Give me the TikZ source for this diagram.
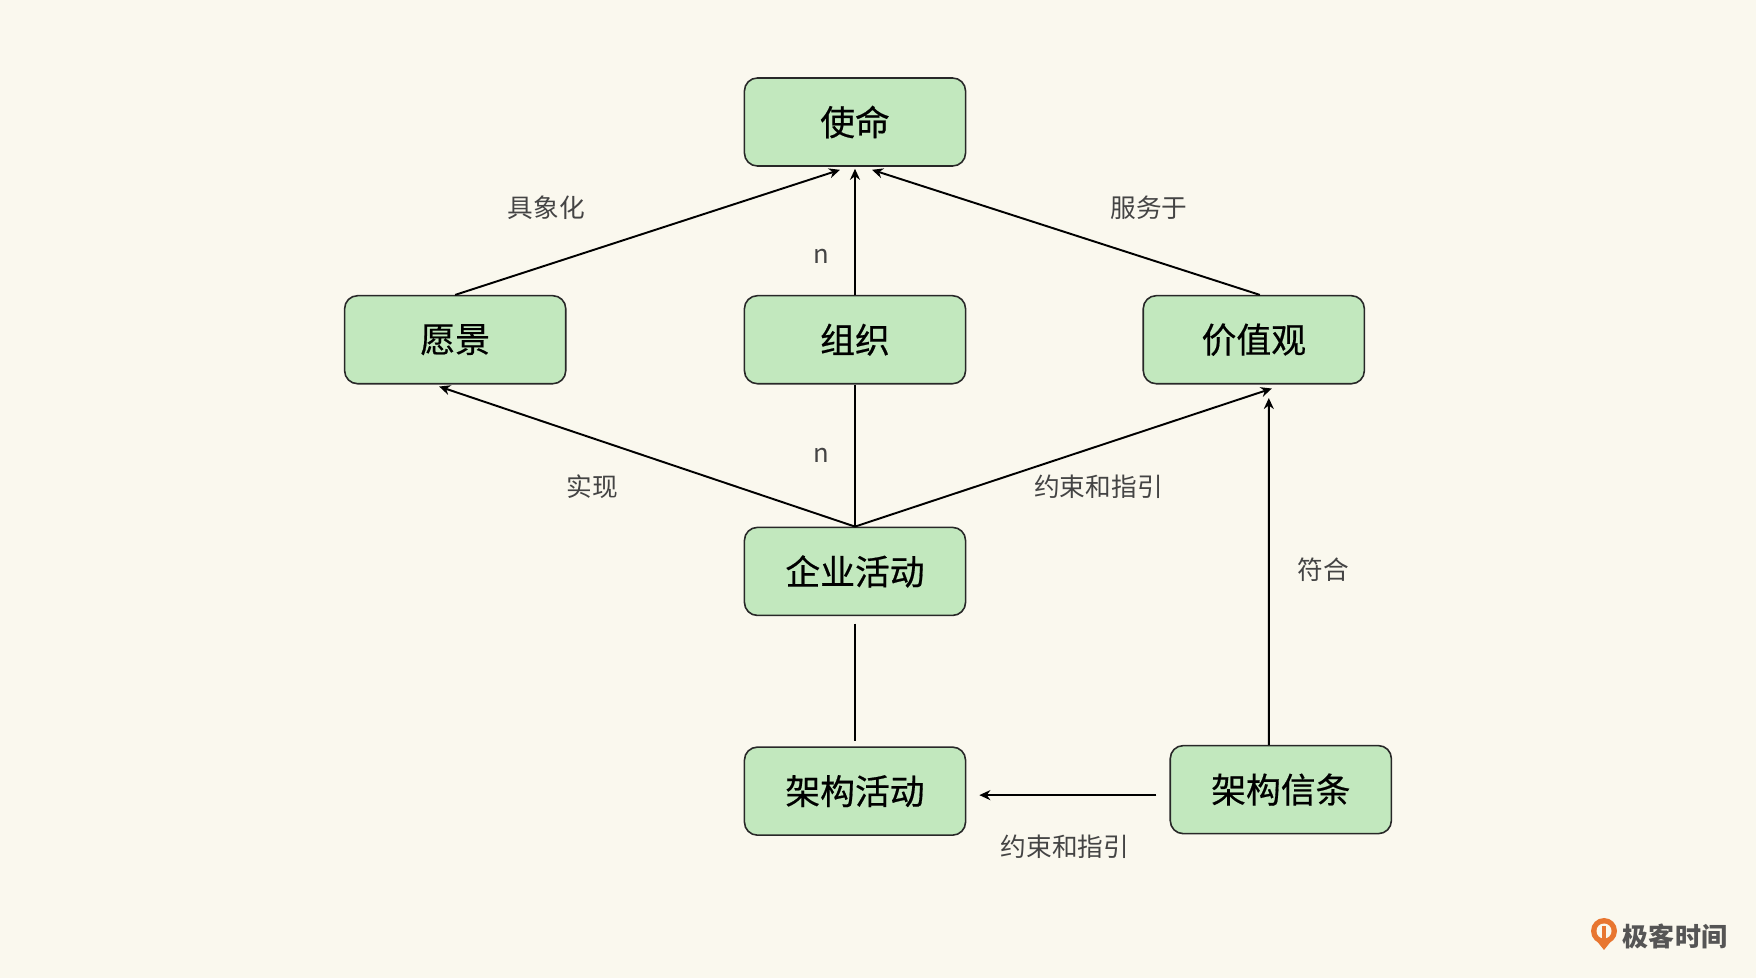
\documentclass[tikz,border=0pt]{standalone}
\usepackage{fontspec}
\newfontfamily\cjk{Noto Sans CJK SC}
\newfontfamily\cjkbox[FakeBold=0.5]{Noto Sans CJK SC}
\usepackage{xcolor}
\usepackage{tikz}
\usetikzlibrary{arrows.meta}
\usetikzlibrary{positioning}

\definecolor{bg}{RGB}{250,248,238}
\definecolor{boxgreen}{RGB}{194,232,190}
\definecolor{boxline}{RGB}{40,40,40}
\definecolor{labelgray}{RGB}{68,68,68}
\definecolor{logogray}{RGB}{85,85,85}
\definecolor{logoorange}{RGB}{232,118,48}

\tikzset{
  box/.style={draw=boxline, line width=0.45pt, fill=boxgreen, rounded corners=0.13cm,
    minimum width=2.21cm, minimum height=0.88cm, inner sep=0pt,
    font=\cjkbox\fontsize{9.9}{10}\selectfont},
  lbl/.style={text=labelgray, inner sep=0pt, font=\cjk\fontsize{7.3}{8}\selectfont},
}

\begin{document}
\begin{tikzpicture}[x=0.01cm, y=0.01cm, >={Stealth[length=1.1mm,width=1.0mm]}, line width=0.55pt]
\fill[bg] (0,0) rectangle (1756,978);
\useasboundingbox (0,0) rectangle (1756,978);

\node[box] at (855,856) (mission) {使命};
\node[box] (org) [below=1.28cm of mission] {组织};
\node[box] (vision) [left=1.77cm of org] {愿景};
\node[box] (values) [right=1.76cm of org] {价值观};
\node[box] (ent) [below=1.42cm of org] {企业活动};
\node[box] (archact) [below=1.30cm of ent] {架构活动};
\node[box] (creed) [right=2.03cm of archact,yshift=0.015cm] {架构信条};

\path[->] (vision.north) edge ([xshift=-0.15cm,yshift=-0.03cm]mission.south);
\path[->] (org.north) edge ([yshift=-0.02cm]mission.south);
\path[->] ([xshift=0.06cm]values.north) edge ([xshift=0.17cm,yshift=-0.03cm]mission.south);
\path[->] (ent.north) edge ([xshift=-0.16cm,yshift=-0.02cm]vision.south);
\path[->] (ent.north) edge ([xshift=0.18cm,yshift=-0.04cm]values.south);
\path (org.south) edge (ent.north);
\path ([yshift=-0.075cm]ent.south) edge ([yshift=0.05cm]archact.north);
\path[->] ([xshift=-0.12cm]creed.north) edge ([xshift=0.15cm,yshift=-0.135cm]values.south);
\path[->] ([xshift=-0.13cm,yshift=-0.055cm]creed.west) edge ([xshift=0.13cm,yshift=-0.04cm]archact.east);

\node[lbl] at (546.5,770) (concret) {具象化};
\node[lbl] at (1149,770) (serve) {服务于};
\node[lbl] at (821,721.5) (n1) {n};
\node[lbl] at (821,523) (n2) {n};
\node[lbl] at (592.5,491) (realize) {实现};
\node[lbl] at (1098.5,491) (guide1) {约束和指引};
\node[lbl] at (1323.5,408) (conform) {符合};
\node[lbl] at (1065,131) (guide2) {约束和指引};

% logo
\fill[logoorange] (1604,47) circle (13);
\fill[logoorange] (1596,38) -- (1604,28) -- (1612,38) -- cycle;
\fill[bg] (1604,47) circle (7.5);
\fill[logoorange] (1602,36) rectangle (1606,52);
\node[font=\cjk\bfseries\fontsize{7.4}{8}\selectfont, text=logogray] at (1675,42) (logo) {极客时间};
\end{tikzpicture}
\end{document}
